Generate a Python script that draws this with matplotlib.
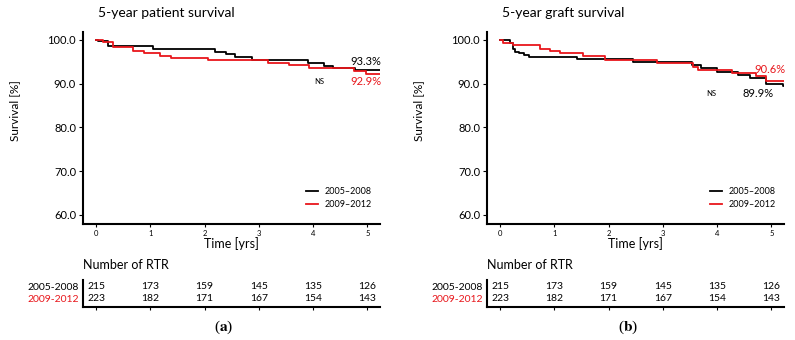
import matplotlib.pyplot as plt
import numpy as np

plt.rcParams['font.family'] = ['Lato', 'DejaVu Sans']
plt.rcParams['mathtext.fontset'] = 'stix'

RED = '#e8161b'
GROUPS = ["2005–2008", "2009–2012"]
ROW_LABELS = ["2005-2008", "2009-2012"]
YEARS = [0, 1, 2, 3, 4, 5]

# Kaplan-Meier steps (time in years, survival in %)
patient_t_old = [0, 0.03, 0.22, 1.05, 2.2, 2.4, 2.57, 2.87, 3.9, 4.2, 4.37, 4.78, 5.24]
patient_s_old = [100, 99.7, 98.6, 97.9, 97.3, 96.7, 96.0, 95.4, 94.8, 94.0, 93.6, 93.1, 93.1]
patient_t_new = [0, 0.13, 0.32, 0.69, 0.88, 1.18, 1.38, 2.07, 3.17, 3.56, 3.92, 4.76, 4.97, 5.24]
patient_s_new = [100, 99.4, 98.3, 97.5, 97.0, 96.4, 95.8, 95.3, 94.8, 94.2, 93.5, 92.8, 92.3, 92.3]

graft_t_old = [0, 0.18, 0.23, 0.28, 0.35, 0.45, 0.53, 1.42, 2.45, 3.53, 3.7, 3.99, 4.38, 4.6, 4.9, 5.22, 5.24]
graft_s_old = [100, 99.3, 97.9, 97.3, 96.9, 96.5, 96.1, 95.6, 95.0, 94.3, 93.5, 92.7, 91.9, 91.3, 90.0, 89.4, 89.4]
graft_t_new = [0, 0.05, 0.24, 0.73, 0.92, 1.1, 1.53, 1.93, 2.9, 3.55, 3.64, 4.28, 4.72, 4.9, 5.24]
graft_s_new = [100, 99.3, 98.8, 98.0, 97.4, 96.9, 96.3, 95.5, 94.8, 93.9, 93.0, 92.4, 91.7, 90.6, 90.6]

# Number at risk
rtr_old = [215, 173, 159, 145, 135, 126]
rtr_new = [223, 182, 171, 167, 154, 143]

fig = plt.figure(figsize=(7.95, 3.4), dpi=100)


def plot_survival(left, title, curves, labels, letter):
    """
    Draws one survival panel with its number-at-risk table under it
    :param left: Left edge of the axes in figure fraction
    :param title: Panel title
    :param curves: List of (times, survival) for the two periods
    :param labels: List of (text, x, y, colour, size) annotations
    :param letter: Panel letter
    """
    ax = fig.add_axes([left, 0.341, 0.374, 0.565])
    for (t, s), color, name in zip(curves, ['black', RED], GROUPS):
        ax.step(t, s, where='post', color=color, lw=1.3, label=name)
    ax.set_xlim(-0.24, 5.24)
    ax.set_ylim(57.9, 101.8)
    ax.set_yticks([60, 70, 80, 90, 100])
    ax.set_yticklabels(['60.0', '70.0', '80.0', '90.0', '100.0'])
    ax.set_xticks(YEARS)
    ax.tick_params(axis='y', labelsize=8, length=3, width=0.8, pad=2)
    ax.tick_params(axis='x', labelsize=5.5, length=2, width=0.8, pad=2)
    for side in ['top', 'right']:
        ax.spines[side].set_visible(False)
    for side in ['left', 'bottom']:
        ax.spines[side].set_linewidth(1.5)
    ax.set_ylabel('Survival [%]', fontsize=8.5)
    ax.yaxis.set_label_coords(-0.21, 0.59)
    ax.set_xlabel('Time [yrs]', fontsize=9, labelpad=0)
    ax.set_title(title, fontsize=10, loc='left', x=0.05, pad=11)
    ax.legend(loc='lower right', bbox_to_anchor=(0.985, 0.06), fontsize=6.5,
              frameon=False, handlelength=1.3, borderaxespad=0, labelspacing=0.4)
    for text, x, y, color, size in labels:
        ax.text(x, y, text, color=color, fontsize=size, ha='center', va='center')

    tab = fig.add_axes([left, 0.097, 0.374, 0.079])
    tab.set_xlim(-0.24, 5.24)
    tab.set_ylim(0, 1)
    for yr, a, b in zip(YEARS, rtr_old, rtr_new):
        tab.text(yr, 0.78, str(a), fontsize=7.5, ha='center', va='center')
        tab.text(yr, 0.33, str(b), fontsize=7.5, ha='center', va='center')
    tab.set_yticks([0.78, 0.33])
    tab.set_yticklabels(ROW_LABELS, fontsize=7.5)
    tab.get_yticklabels()[1].set_color(RED)
    tab.tick_params(axis='y', length=0, pad=3)
    tab.set_xticks(YEARS)
    tab.set_xticklabels([])
    tab.tick_params(axis='x', length=2, width=0.8)
    for side in ['top', 'right']:
        tab.spines[side].set_visible(False)
    tab.spines['left'].set_linewidth(1.5)
    tab.spines['bottom'].set_linewidth(1.5)
    tab.text(0, 1.55, 'Number of RTR', transform=tab.transAxes, fontsize=9,
             ha='left', va='center')
    fig.text(left + 0.374 / 2 - 0.01, 0.038, '(' + r'$\mathbf{' + letter + '}$' + ')',
             fontsize=11, ha='center', va='center', family='Liberation Serif')


plot_survival(0.1044, '5-year patient survival',
              [(patient_t_old, patient_s_old), (patient_t_new, patient_s_new)],
              [('93.3%', 4.97, 95.0, 'black', 8), ('92.9%', 4.98, 90.4, RED, 8),
               ('NS', 4.12, 90.4, 'black', 5.5)],
              'a')
plot_survival(0.6126, '5-year graft survival',
              [(graft_t_old, graft_s_old), (graft_t_new, graft_s_new)],
              [('90.6%', 4.98, 93.2, RED, 8), ('89.9%', 4.75, 87.7, 'black', 8),
               ('NS', 3.9, 87.7, 'black', 5.5)],
              'b')

fig.savefig('out.png', dpi=100)
